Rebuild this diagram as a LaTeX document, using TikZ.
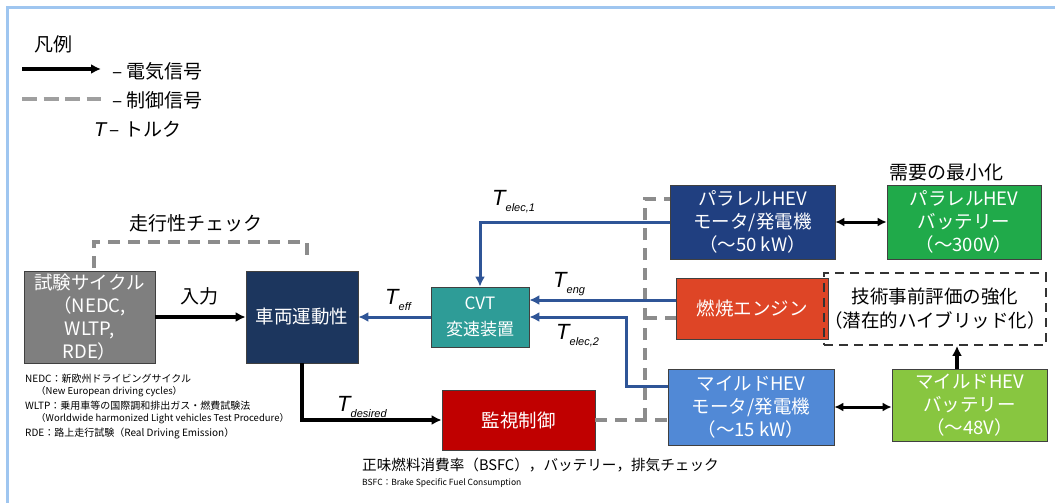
\documentclass[tikz,border=0pt]{standalone}
\usepackage{fontspec}
\setmainfont{Noto Sans CJK JP}
\newfontfamily\lat{Liberation Sans}
\usetikzlibrary{arrows.meta}
\definecolor{framec}{HTML}{9FC6F0}
\definecolor{grayb}{HTML}{7F7F7F}
\definecolor{navy}{HTML}{1C365E}
\definecolor{pmot}{HTML}{203F80}
\definecolor{teal}{HTML}{2E9C97}
\definecolor{pbat}{HTML}{20AA4A}
\definecolor{engc}{HTML}{DE4526}
\definecolor{mmot}{HTML}{5189D6}
\definecolor{mbat}{HTML}{88C640}
\definecolor{monc}{HTML}{C00000}
\definecolor{bluec}{HTML}{2F5597}
\definecolor{grayd}{HTML}{8C8C8C}
\newcommand\Tlab[1]{{\lat\itshape\fontsize{22}{22}\selectfont T}\raisebox{-6pt}{\lat\itshape\fontsize{11}{11}\selectfont #1}}
\begin{document}
\begin{tikzpicture}[x=1pt,y=-1pt,
  box/.style={draw=black!75, line width=0.7pt, text=white, align=center, inner sep=0pt,
    font=\fontsize{18.5}{23}\selectfont},
  elec/.style={draw=black, line width=3.4pt, -{Latex[length=10pt,width=10pt]}},
  elecboth/.style={draw=black, line width=3pt, {Latex[length=9pt,width=9pt]}-{Latex[length=9pt,width=9pt]}},
  blu/.style={draw=bluec, line width=3pt, -{Latex[length=10pt,width=10pt]}},
  ctrl/.style={draw=grayd, line width=3.4pt, dash pattern=on 12pt off 8pt},
  lbl/.style={inner sep=0pt, font=\fontsize{19}{22}\selectfont},
  note/.style={inner sep=0pt, anchor=west, font=\fontsize{10}{12}\selectfont}
]
\useasboundingbox (0,0) rectangle (1055,503);
% frame
\draw[framec, line width=3pt] (7,503) -- (7,8) -- (1055,8);

% legend
\node[lbl, anchor=west] (leg) at (34,44) {凡例};
\coordinate (la1) at (22,69);
\coordinate (la2) at (101,69);
\draw[elec] (la1) -- (la2);
\node[lbl, anchor=west] (lt1) at (112,71) {–\ 電気信号};
\coordinate (ld1) at (22,99);
\coordinate (ld2) at (101,99);
\draw[draw=gray!75, line width=3.4pt, dash pattern=on 15pt off 6.5pt] (ld1) -- (ld2);
\node[lbl, anchor=west] (lt2) at (112,100) {–\ 制御信号};
\node[lbl, anchor=west] (lt3) at (94,129) {{\lat\itshape\fontsize{20}{20}\selectfont T}\,– トルク};

% boxes
\node[box, fill=grayb, minimum width=131pt, minimum height=92pt] (test) at (89.5,317)
  {試験サイクル\\（NEDC,\\WLTP,\\RDE）};
\node[box, fill=navy, minimum width=112pt, minimum height=92pt] (veh) at (302,317) {車両運動性};
\node[box, fill=teal, minimum width=98pt, minimum height=60pt,
  font=\fontsize{17}{26}\selectfont] (cvt) at (480,317) {CVT\\変速装置};
\node[box, fill=monc, minimum width=153pt, minimum height=60pt] (mon) at (518.5,420) {監視制御};
\node[box, fill=pmot, minimum width=165pt, minimum height=74pt] (pm) at (752.5,222)
  {パラレルHEV\\モータ/発電機\\（～50 kW）};
\node[box, fill=pbat, minimum width=154pt, minimum height=74pt] (pb) at (964,222)
  {パラレルHEV\\バッテリー\\（～300V）};
\node[box, fill=engc, minimum width=152pt, minimum height=61pt] (eng) at (752,308.5) {燃焼エンジン};
\node[draw=black!80, line width=1.8pt, dash pattern=on 9pt off 6pt, align=center, inner sep=0pt,
  minimum width=210pt, minimum height=72pt, font=\fontsize{18.5}{24}\selectfont] (tech) at (935,309)
  {技術事前評価の強化\\（潜在的ハイブリッド化）};
\node[box, fill=mmot, minimum width=166pt, minimum height=76pt] (mm) at (751,407)
  {マイルドHEV\\モータ/発電機\\（～15 kW）};
\node[box, fill=mbat, minimum width=155pt, minimum height=72pt] (mb) at (969.5,405)
  {マイルドHEV\\バッテリー\\（～48V）};

% control (dashed) lines
\draw[ctrl] (94,268) -- (94,242) -- (307,242) -- (307,261);
\node[lbl] (runchk) at (196,223) {走行性チェック};
\coordinate (cv1) at (645,420);
\coordinate (cv2) at (645,199);
\coordinate (cv3) at (645,318);
\draw[ctrl] (mon.east) -- (mm.west |- mon.east);
\draw[ctrl] (cv1) -- (cv2) -- (pm.west |- cv2);
\draw[ctrl] (cv3) -- (eng.west |- cv3);

% electrical / torque connectors
\draw[elec] (test.east) -- (veh.west);
\node[lbl] (inp) at (199,296) {入力};
\draw[blu] (cvt.west) -- (veh.east);
\node[anchor=west, inner sep=0pt] (teff) at (385,300) {\Tlab{eff}};
\draw[blu] (pm.west) -| (cvt.north);
\node[anchor=west, inner sep=0pt] (te1) at (492,202) {\Tlab{elec,1}};
\coordinate (eg) at (676,300);
\draw[blu] (eg) -- (cvt.east |- eg);
\node[anchor=west, inner sep=0pt] (teng) at (553,284) {\Tlab{eng}};
\coordinate (e2a) at (668,386);
\coordinate (e2b) at (626,317);
\draw[blu] (e2a) -| (e2b) -- (cvt.east);
\node[anchor=west, inner sep=0pt] (te2) at (556,336) {\Tlab{elec,2}};
\draw[elec] (veh.south) |- (mon.west);
\node[anchor=west, inner sep=0pt] (tdes) at (337,407) {\Tlab{desired}};
\draw[elecboth] (pm.east) -- (pb.west);
\draw[elecboth] (mm.east) -- (mb.west |- mm.east);
\coordinate (up1) at (957,369);
\draw[elec] (up1) -- (tech.south -| up1);
\node[lbl] (minreq) at (946,172) {需要の最小化};

% notes
\node[note] (n1) at (25,379) {NEDC：新欧州ドライビングサイクル};
\node[note, font=\fontsize{9.5}{11}\selectfont] (n2) at (36,392) {（New European driving cycles）};
\node[note] (n3) at (25,406) {WLTP：乗用車等の国際調和排出ガス・燃費試験法};
\node[note, font=\fontsize{9.5}{11}\selectfont] (n4) at (36,419) {（Worldwide harmonized Light vehicles Test Procedure）};
\node[note] (n5) at (25,433) {RDE：路上走行試験（Real Driving Emission）};
\node[note, font=\fontsize{14.6}{17}\selectfont] (n6) at (362,465) {正味燃料消費率（BSFC），バッテリー，排気チェック};
\node[note, font=\fontsize{8.5}{10}\selectfont] (n7) at (362,483) {BSFC：Brake Specific Fuel Consumption};
\end{tikzpicture}
\end{document}
